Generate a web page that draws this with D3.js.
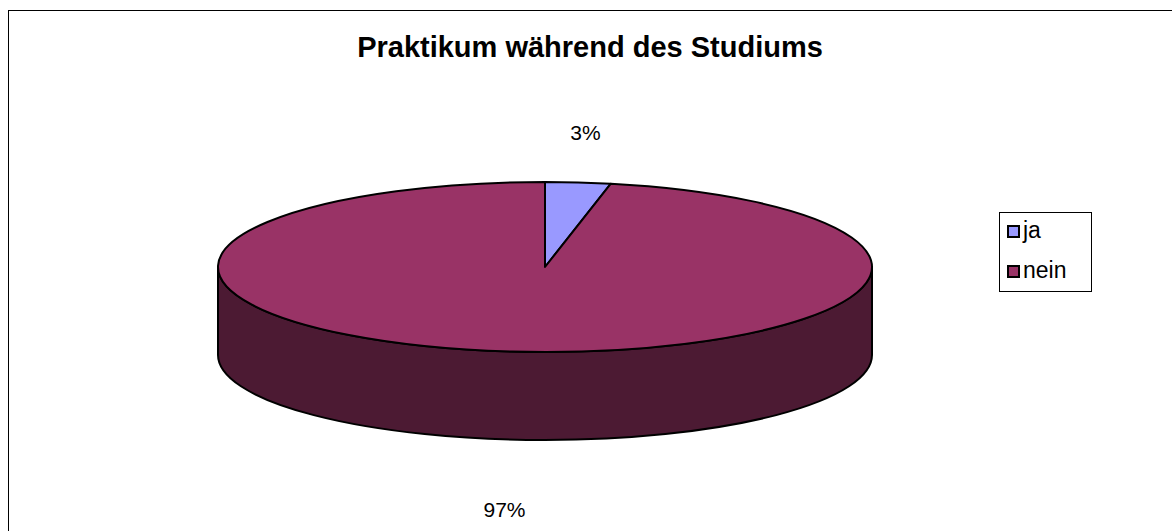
<!DOCTYPE html>
<html>
<head>
<meta charset="utf-8">
<script src="https://cdn.jsdelivr.net/npm/d3@7"></script>
<style>
  body { margin: 0; background: #fff; }
  text { font-family: "Liberation Sans", Arial, sans-serif; }
</style>
</head>
<body>
<div id="chart"></div>
<script>
const categories = ["ja", "nein"];
const values = [1, 30];
const pctLabels = ["3%", "97%"];
const colors = ["#9999FF", "#993366"];
const sideColors = ["#4D4D80", "#4C1A33"];

const width = 1172, height = 531;
const cx = 545, cy = 267, rx = 327, ry = 85, depth = 88;

const svg = d3.select("#chart").append("svg")
    .attr("width", width)
    .attr("height", height);

// chart border (runs off right/bottom like the original)
svg.append("rect")
    .attr("x", 8.5).attr("y", 10.5)
    .attr("width", width).attr("height", height)
    .attr("fill", "white")
    .attr("stroke", "#000").attr("stroke-width", 1);

svg.append("text")
    .attr("x", 590).attr("y", 57)
    .attr("text-anchor", "middle")
    .attr("font-size", 29).attr("font-weight", "bold")
    .text("Praktikum während des Studiums");

const pie = d3.pie().sort(null).value(d => d)(values);

// angle measured clockwise from top
const px = a => cx + rx * Math.sin(a);
const py = a => cy - ry * Math.cos(a);

function topPath(d) {
    const large = (d.endAngle - d.startAngle) > Math.PI ? 1 : 0;
    return `M${cx},${cy} L${px(d.startAngle)},${py(d.startAngle)} ` +
        `A${rx},${ry} 0 ${large} 1 ${px(d.endAngle)},${py(d.endAngle)} Z`;
}

function sidePath(d) {
    const a0 = Math.max(d.startAngle, Math.PI / 2);
    const a1 = Math.min(d.endAngle, 3 * Math.PI / 2);
    if (a1 <= a0) return null;
    const large = (a1 - a0) > Math.PI ? 1 : 0;
    return `M${px(a0)},${py(a0)} A${rx},${ry} 0 ${large} 1 ${px(a1)},${py(a1)} ` +
        `L${px(a1)},${py(a1) + depth} A${rx},${ry} 0 ${large} 0 ${px(a0)},${py(a0) + depth} Z`;
}

svg.append("g").selectAll("path")
    .data(pie.filter(d => sidePath(d)))
    .join("path")
    .attr("d", sidePath)
    .attr("fill", d => sideColors[d.index])
    .attr("stroke", "#000").attr("stroke-width", 2)
    .attr("stroke-linejoin", "round");

svg.append("g").selectAll("path")
    .data(pie)
    .join("path")
    .attr("d", topPath)
    .attr("fill", d => colors[d.index])
    .attr("stroke", "#000").attr("stroke-width", 2)
    .attr("stroke-linejoin", "round");

// percentage labels, placed outside the slice mid-angle
svg.append("g").selectAll("text")
    .data(pie)
    .join("text")
    .attr("x", d => cx + 400 * Math.sin((d.startAngle + d.endAngle) / 2))
    .attr("y", d => {
        const c = Math.cos((d.startAngle + d.endAngle) / 2);
        return c > 0 ? cy - 128 * c : cy + depth + 163 * -c;
    })
    .attr("text-anchor", "middle")
    .attr("font-size", 21)
    .text((d, i) => pctLabels[i]);

// legend
const legend = svg.append("g").attr("transform", "translate(999,212)");
legend.append("rect")
    .attr("x", 0.5).attr("y", 0.5)
    .attr("width", 92).attr("height", 79)
    .attr("fill", "white").attr("stroke", "#000").attr("stroke-width", 1);

const item = legend.selectAll("g.item")
    .data(categories)
    .join("g")
    .attr("class", "item")
    .attr("transform", (d, i) => `translate(9,${14 + i * 40})`);

item.append("rect")
    .attr("width", 11).attr("height", 11)
    .attr("fill", (d, i) => colors[i])
    .attr("stroke", "#000").attr("stroke-width", 2);

item.append("text")
    .attr("x", 15).attr("y", 12)
    .attr("font-size", 23)
    .text(d => d);
</script>
</body>
</html>
